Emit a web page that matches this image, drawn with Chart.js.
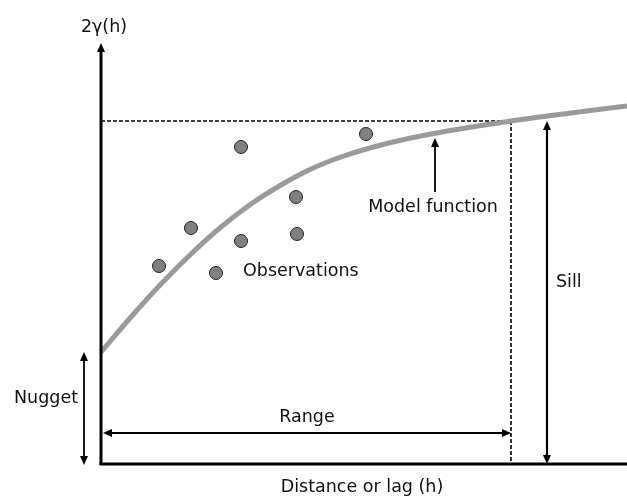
<!DOCTYPE html>
<html>
<head>
<meta charset="utf-8">
<script src="https://cdn.jsdelivr.net/npm/chart.js@4.4.0/dist/chart.umd.min.js"></script>
<style>
  html, body { margin: 0; padding: 0; background: #fff; overflow: hidden; }
  #wrap { width: 627px; height: 497px; position: relative; }
</style>
</head>
<body>
<div id="wrap"><canvas id="vario"></canvas></div>
<script>
// Variogram sketch (lag units, gamma units)
const obsLag = [58, 90, 140, 115, 140, 195, 196, 265];
const obsGamma = [198, 236, 317, 191, 223, 267, 230, 330];

const modelLag = [0, 30, 60, 90, 120, 150, 180, 210, 240, 280, 330, 410, 470, 526];
const modelGamma = [112, 147, 180, 210, 237, 260, 279, 295, 307, 319, 330, 343, 351, 358];

const nugget = 112;
const sill = 343;
const range = 410;
const lagMax = 526;
const gammaMax = 464;

const FONT = "17.5px 'DejaVu Sans', Verdana, sans-serif";

function arrowHead(ctx, x, y, dir) {
  const l = 9, w = 4;
  ctx.beginPath();
  if (dir === "up") { ctx.moveTo(x, y); ctx.lineTo(x - w, y + l); ctx.lineTo(x + w, y + l); }
  if (dir === "down") { ctx.moveTo(x, y); ctx.lineTo(x - w, y - l); ctx.lineTo(x + w, y - l); }
  if (dir === "left") { ctx.moveTo(x, y); ctx.lineTo(x + l, y - w); ctx.lineTo(x + l, y + w); }
  if (dir === "right") { ctx.moveTo(x, y); ctx.lineTo(x - l, y - w); ctx.lineTo(x - l, y + w); }
  ctx.closePath();
  ctx.fill();
}

function line(ctx, x1, y1, x2, y2, width, dash) {
  ctx.save();
  ctx.lineWidth = width;
  ctx.setLineDash(dash || []);
  ctx.beginPath();
  ctx.moveTo(x1, y1);
  ctx.lineTo(x2, y2);
  ctx.stroke();
  ctx.restore();
}

const guides = {
  id: "guides",
  beforeDatasetsDraw(chart) {
    const { ctx, scales: { x, y } } = chart;
    ctx.save();
    ctx.strokeStyle = "#000";
    line(ctx, x.getPixelForValue(0), y.getPixelForValue(sill), x.getPixelForValue(range), y.getPixelForValue(sill), 1.6, [4, 2]);
    line(ctx, x.getPixelForValue(range), y.getPixelForValue(sill), x.getPixelForValue(range), y.getPixelForValue(0), 1.6, [4, 2]);
    ctx.restore();
  },
  afterDatasetsDraw(chart) {
    const { ctx, scales: { x, y } } = chart;
    const x0 = x.getPixelForValue(0), y0 = y.getPixelForValue(0);
    ctx.save();
    ctx.strokeStyle = "#000";
    ctx.fillStyle = "#000";

    // axes
    line(ctx, x0, y0 + 1, x0, y.getPixelForValue(412), 3);
    arrowHead(ctx, x0, y.getPixelForValue(421), "up");
    line(ctx, x0 - 1.5, y0, x.getPixelForValue(lagMax), y0, 3);

    // nugget
    const xn = x.getPixelForValue(-17);
    line(ctx, xn, y.getPixelForValue(nugget) + 6, xn, y0 - 6, 1.8);
    arrowHead(ctx, xn, y.getPixelForValue(nugget), "up");
    arrowHead(ctx, xn, y0 + 1, "down");

    // range
    const yr = y.getPixelForValue(31);
    line(ctx, x0 + 6, yr, x.getPixelForValue(range) - 6, yr, 1.8);
    arrowHead(ctx, x0 + 2, yr, "left");
    arrowHead(ctx, x.getPixelForValue(range), yr, "right");

    // sill
    const xs = x.getPixelForValue(446);
    line(ctx, xs, y.getPixelForValue(sill) + 6, xs, y0 - 6, 2.2);
    arrowHead(ctx, xs, y.getPixelForValue(sill), "up");
    arrowHead(ctx, xs, y0, "down");

    // model function pointer
    const xm = x.getPixelForValue(334);
    line(ctx, xm, y.getPixelForValue(272), xm, y.getPixelForValue(318), 1.8);
    arrowHead(ctx, xm, y.getPixelForValue(326), "up");

    // labels
    ctx.font = FONT;
    ctx.fillStyle = "#111";
    ctx.textBaseline = "middle";
    ctx.textAlign = "center";
    ctx.fillText("2γ(h)", x.getPixelForValue(3), y.getPixelForValue(437));
    ctx.fillText("Distance or lag (h)", x.getPixelForValue(261), y0 + 23);
    ctx.fillText("Model function", x.getPixelForValue(332), y.getPixelForValue(257));
    ctx.fillText("Range", x.getPixelForValue(206), y.getPixelForValue(47));
    ctx.textAlign = "left";
    ctx.fillText("Observations", x.getPixelForValue(142), y.getPixelForValue(193));
    ctx.fillText("Sill", x.getPixelForValue(455), y.getPixelForValue(182));
    ctx.fillText("Nugget", 14, y.getPixelForValue(66));
    ctx.restore();
  }
};

new Chart(document.getElementById("vario"), {
  type: "scatter",
  data: {
    datasets: [
      {
        label: "Model function",
        type: "line",
        data: modelLag.map((h, i) => ({ x: h, y: modelGamma[i] })),
        borderColor: "#9a9a9a",
        borderWidth: 5,
        pointRadius: 0,
        cubicInterpolationMode: "monotone",
        fill: false,
        order: 2
      },
      {
        label: "Observations",
        data: obsLag.map((h, i) => ({ x: h, y: obsGamma[i] })),
        backgroundColor: "#808080",
        borderColor: "#222",
        borderWidth: 1,
        pointRadius: 6.5,
        order: 1
      }
    ]
  },
  options: {
    responsive: true,
    maintainAspectRatio: false,
    animation: false,
    layout: { autoPadding: false, padding: { left: 101, right: 0, top: 0, bottom: 33 } },
    plugins: { legend: { display: false }, tooltip: { enabled: false } },
    scales: {
      x: { type: "linear", min: 0, max: lagMax, display: false },
      y: { type: "linear", min: 0, max: gammaMax, display: false }
    },
    clip: false
  },
  plugins: [guides]
});
</script>
</body>
</html>
